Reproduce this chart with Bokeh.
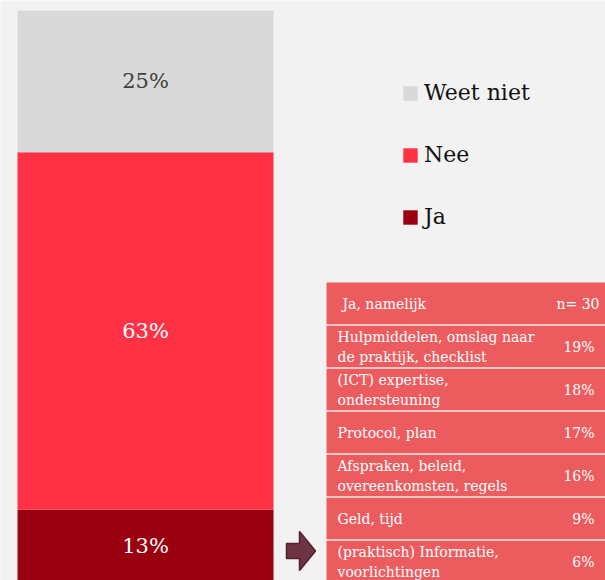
from bokeh.plotting import figure
from bokeh.models import Range1d, Legend, LegendItem, ColumnDataSource
from bokeh.core.properties import value
from bokeh.embed import file_html
from bokeh.resources import INLINE

# ---- data ----
categories = ["Ja", "Nee", "Weet niet"]
shares = [13, 63, 25]
bar_colors = ["#9B0010", "#FF3245", "#D9D9D9"]
label_colors = ["#FFFFFF", "#FFFFFF", "#404040"]

table_title = "Ja, namelijk"
table_n = "n= 30"
reasons = [
    "Hulpmiddelen, omslag naar\nde praktijk, checklist",
    "(ICT) expertise,\nondersteuning",
    "Protocol, plan",
    "Afspraken, beleid,\novereenkomsten, regels",
    "Geld, tijd",
    "(praktisch) Informatie,\nvoorlichtingen",
]
reason_pct = [19, 18, 17, 16, 9, 6]

# ---- layout constants (screen pixels) ----
OX, OY = 0, 0
W, H = 605, 580
PX_PER_PCT = 5.67
BAR_TOP_PX = 10
BG = "#F2F2F2"
FONT = "DejaVu Serif"

total = sum(shares)
y_top = total + (BAR_TOP_PX - OY) / PX_PER_PCT
y_bot = y_top - H / PX_PER_PCT

p = figure(width=W, height=H, x_range=Range1d(OX, OX + W), y_range=Range1d(y_bot, y_top),
           output_backend="svg", toolbar_location=None, x_axis_type=None, y_axis_type=None,
           min_border=0, background_fill_color=BG, border_fill_color=BG, outline_line_color=None)
p.grid.visible = False
p.extra_y_ranges = {"px": Range1d(OY + H, OY)}

# ---- stacked bar ----
bottoms, tops = [], []
acc = 0
for s in shares:
    bottoms.append(acc)
    acc += s
    tops.append(acc)
src = ColumnDataSource(dict(cat=categories, share=shares, bottom=bottoms, top=tops,
                            mid=[(b + t) / 2 for b, t in zip(bottoms, tops)],
                            color=bar_colors, lcolor=label_colors,
                            label=[f"{s}%" for s in shares], x=[145] * 3))
bars = p.vbar(x="x", width=256, bottom="bottom", top="top", color="color", line_color=None, source=src)
p.text(x="x", y="mid", text="label", text_color="lcolor", source=src, text_font=value(FONT),
       text_font_size="21px", text_align="center", text_baseline="middle")

legend = Legend(items=[LegendItem(label=categories[i], renderers=[bars], index=i) for i in (2, 1, 0)],
                location=(401, 351), orientation="vertical", glyph_width=18, glyph_height=18,
                label_text_font=FONT, label_text_font_size="22px", label_text_color="#111111",
                spacing=37, padding=0, margin=0, border_line_color=None, background_fill_alpha=0,
                label_standoff=5)
p.add_layout(legend, "center")

# ---- table ----
row_h = 43
first_top = 282
n_rows = len(reasons) + 1
row_tops = [first_top + i * row_h for i in range(n_rows)]
p.quad(left=326, right=620, top=row_tops, bottom=[t + row_h - 1 for t in row_tops],
       fill_color="#EC5C5F", line_color=None, y_range_name="px")
p.segment(x0=326, x1=620, y0=[t + row_h - 0.5 for t in row_tops[:-1]],
          y1=[t + row_h - 0.5 for t in row_tops[:-1]], line_color="#F7D3D3", line_width=1.5,
          y_range_name="px")

centers = [t + (row_h - 1) / 2 for t in row_tops]
p.text(x=[342], y=[centers[0]], text=[table_title], text_color="white", text_font=value(FONT),
       text_font_size="14px", text_baseline="middle", y_range_name="px")
p.text(x=[599], y=[centers[0]], text=[table_n], text_color="white", text_font=value(FONT),
       text_font_size="14px", text_baseline="middle", text_align="right", y_range_name="px")
p.text(x=[337] * len(reasons), y=centers[1:], text=reasons, text_color="white", text_font=value(FONT),
       text_font_size="14px", text_baseline="middle", text_line_height=1.25, y_range_name="px")
p.text(x=[594] * len(reasons), y=centers[1:], text=[f"{v}%" for v in reason_pct], text_color="white",
       text_font=value(FONT), text_font_size="14px", text_baseline="middle", text_align="right",
       y_range_name="px")

# ---- arrow ----
p.patch(x=[286, 299, 299, 315, 299, 299, 286], y=[543, 543, 531, 550.5, 570, 558, 558],
        fill_color="#6E3444", line_color="#52202E", line_width=1.5, y_range_name="px")

open("out.html", "w").write(file_html(p, INLINE))
